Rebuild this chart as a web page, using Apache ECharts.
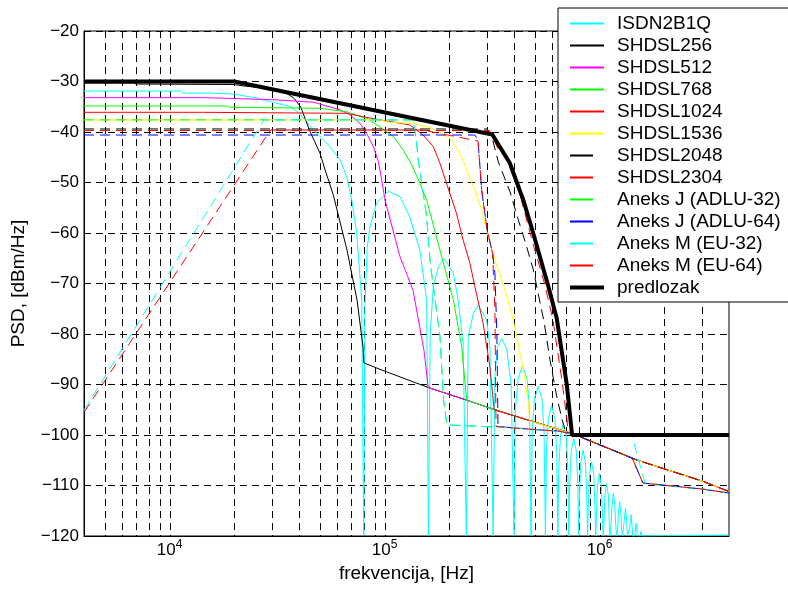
<!DOCTYPE html>
<html>
<head>
<meta charset="utf-8">
<script src="https://cdn.jsdelivr.net/npm/echarts@6/dist/echarts.min.js"></script>
<style>html,body{margin:0;padding:0;background:#fff}#c{width:788px;height:594px}</style>
</head>
<body>
<div id="c"></div>
<script>
// ---- data (frequency in Hz, PSD in dBm/Hz) ----
const seriesNames = ['ISDN2B1Q','SHDSL256','SHDSL512','SHDSL768','SHDSL1024','SHDSL1536','SHDSL2048','SHDSL2304','Aneks J (ADLU-32)','Aneks J (ADLU-64)','Aneks M (EU-32)','Aneks M (EU-64)','predlozak'];
const seriesColors = ['#00ffff','#000000','#ff00ff','#00ff00','#ff0000','#ffff00','#000000','#ff0000','#00ff00','#0000ff','#00ffff','#ff0000','#000000'];
const seriesDashed = [false,false,false,false,false,false,true,true,true,true,true,true,false];

const isdn = [[4000,-31.9],[11300,-31.9],[11500,-32.3],[15500,-32.3],[20000,-32.5],[25600,-33.3],[29500,-34],[36600,-35],[40500,-36.5],[46700,-39.6],[53900,-42.2],[62100,-45.5],[66700,-48.9],[70400,-53.5],[74200,-60],[78300,-73.3],[80000,-120],
 [81000,-75],[83000,-63],[85500,-58.8],[91800,-54.1],[104000,-51.7],[118000,-52.8],[131000,-56.8],[146000,-63.4],[157000,-73.3],[160000,-120],
 [163000,-80],[168600,-70.6],[178000,-66.7],[189700,-65.1],[209000,-68],[220000,-73.3],[232000,-82],[240000,-120],
 [245000,-80.5],[259000,-75.9],[273000,-74.3],[298500,-77.2],[309000,-82.5],[320000,-120],
 [326000,-88],[336000,-82.5],[351000,-80.9],[370000,-83],[388000,-90],[400000,-120],
 [406000,-95],[418000,-88.8],[438000,-86.3],[460000,-88.8],[472000,-95],[480000,-120],
 [486000,-99.4],[498000,-92.9],[518000,-90.4],[540000,-92.9],[552000,-99.4],[560000,-120],
 [566000,-103.2],[578000,-96.7],[598000,-94.2],[620000,-96.7],[632000,-103.2],[640000,-120],
 [646000,-106.7],[658000,-100.2],[678000,-97.7],[700000,-100.2],[712000,-106.7],[720000,-120],
 [726000,-109.7],[738000,-103.2],[758000,-100.7],[780000,-103.2],[792000,-109.7],[800000,-120],
 [806000,-112],[818000,-105.5],[838000,-103],[860000,-105.5],[872000,-112],[880000,-120],
 [886000,-114.3],[898000,-107.8],[918000,-105.3],[940000,-107.8],[952000,-114.3],[960000,-120],
 [966000,-116.6],[978000,-110.1],[998000,-107.6],[1020000,-110.1],[1032000,-116.6],[1040000,-120],
 [1046000,-118.6],[1058000,-112.1],[1078000,-109.6],[1100000,-112.1],[1112000,-118.6],[1120000,-120],
 [1134000,-117],[1142000,-114],[1160000,-111.5],[1178000,-114],[1186000,-117],[1200000,-120],
 [1214000,-118.7],[1222000,-115.7],[1240000,-113.2],[1258000,-115.7],[1266000,-118.7],[1280000,-120],
 [1294000,-120],[1302000,-117],[1320000,-114.5],[1338000,-117],[1346000,-120],[1360000,-120],
 [1374000,-120],[1382000,-118.3],[1400000,-115.8],[1418000,-118.3],[1426000,-120],[1440000,-120],
 [1458000,-120],[1464000,-119.5],[1480000,-117.5],[1496000,-119.5],[1502000,-120],[1520000,-120],
 [1545000,-120],[1560000,-119.1],[1575000,-120],[1600000,-119.8],[4000000,-119.8]];

const shdsl256 = [[4000,-30.3],[6800,-30.3],[7000,-30.5],[20000,-30.6],[22200,-30.9],[29500,-31.4],[34000,-32],[37900,-33.3],[40700,-35],[45000,-39.9],[50100,-44.2],[52900,-47.5],[57800,-52.5],[66900,-63.4],[74500,-73.3],[79400,-82.6],[80000,-85.7],[95200,-87],[159700,-90.6],[241000,-93.1],[326000,-95],[755000,-99.8],[1490000,-104.95],[3040000,-109.2],[4000000,-111.2]];
const shdsl512 = [[4000,-33.2],[14600,-33.2],[14800,-33.5],[30000,-33.6],[46700,-34.1],[62100,-35.6],[69100,-36.6],[76900,-38.3],[82600,-40.3],[88700,-42.9],[93600,-45.9],[97000,-49.5],[100500,-53.5],[118000,-64.7],[135600,-71.3],[152500,-83.2],[159700,-90.6],[241000,-93.1],[326000,-95],[755000,-99.8],[1490000,-104.95],[3040000,-109.2],[4000000,-111.2]];
const shdsl768 = [[4000,-34.85],[18500,-34.85],[19000,-35.1],[50100,-35.3],[66700,-36],[82600,-37.3],[95200,-39],[109900,-40.9],[122300,-43.6],[133700,-46.5],[146000,-50.2],[157000,-53.5],[181000,-63.4],[209000,-73.3],[228400,-82.5],[241000,-93.1],[326000,-95],[755000,-99.8],[1490000,-104.95],[3040000,-109.2],[4000000,-111.2]];
const shdsl1024 = [[4000,-36.1],[14200,-36.1],[14500,-36.3],[66700,-36.3],[79600,-37],[95200,-37.6],[131000,-38.6],[151000,-40.6],[168600,-42.9],[181000,-46.2],[201000,-52.1],[216000,-56.1],[232000,-61.4],[249500,-66],[263000,-70.6],[287500,-77.9],[309000,-86.5],[323500,-95],[755000,-99.8],[1490000,-104.95],[3040000,-109.2],[4000000,-111.2]];
const shdsl1536 = [[4000,-37.6],[95000,-37.6],[106000,-38.1],[136000,-38.3],[157000,-38.95],[181000,-40],[205000,-41.6],[224000,-44.2],[245000,-48.2],[263000,-51.5],[283000,-55.4],[298500,-59.4],[315000,-63.4],[338000,-67.3],[360000,-70.8],[390000,-75.9],[412000,-80.5],[442000,-87.1],[467000,-93.7],[472000,-97.2],[755000,-99.8],[1490000,-104.95],[3040000,-109.2],[4000000,-111.2]];
const shdsl2048 = [[4000,-39.4],[300000,-39.4],[318000,-41.5],[338000,-45.9],[383000,-51.8],[419000,-57.4],[458000,-62.7],[492000,-67.3],[528000,-73.7],[552000,-77.6],[588000,-85.1],[630000,-92.1],[670000,-97],[695000,-99.3],[755000,-99.8],[1490000,-104.95],[3040000,-109.2],[4000000,-111.2]];
const shdsl2304 = [[4000,-39.7],[308000,-39.7],[336000,-43.2],[371000,-45.5],[427000,-52.5],[485000,-61.4],[557000,-70.3],[607000,-77.2],[668000,-89.1],[706000,-97],[713000,-99.4],[755000,-99.8],[1490000,-104.95],[3040000,-109.2],[4000000,-111.2]];
const adlu32 = [[4000,-37.6],[136000,-37.6],[141000,-42.1],[143000,-45.1],[157000,-56.8],[163000,-65.9],[172000,-73.3],[181000,-80.5],[188000,-93],[195000,-98],[250000,-98.2],[396000,-98.6],[528000,-99],[640000,-99.2],[755000,-99.8],[1420000,-104.6],[1590000,-109.5],[3000000,-110.7],[4000000,-111.5]];
const adlu64 = [[4000,-40.6],[263000,-40.6],[272000,-41.6],[283000,-51.5],[300000,-59.4],[318000,-64],[326000,-68],[333000,-80],[337000,-98.3],[396000,-98.6],[528000,-99],[640000,-99.2],[755000,-99.8],[1420000,-104.6],[1590000,-109.5],[3000000,-110.7],[4000000,-111.5]];
const eu32 = [[4000,-95.1],[27500,-37.6],[136000,-37.6],[141000,-42.1],[143000,-45.1],[157000,-56.8],[163000,-65.9],[172000,-73.3],[181000,-80.5],[188000,-93],[195000,-98],[250000,-98.2],[396000,-98.6],[528000,-99],[640000,-99.2],[755000,-100],[1410000,-100],[1630000,-109.7],[3000000,-110.7],[4000000,-111.5]];
const eu64 = [[4000,-95.5],[29500,-39.6],[150000,-39.6],[232000,-41.2],[272000,-41.8],[283000,-51.5],[300000,-59.4],[318000,-64],[326000,-75],[330000,-98.3],[396000,-98.6],[528000,-99],[640000,-99.2],[755000,-99.8],[1420000,-104.6],[1590000,-109.5],[3000000,-110.7],[4000000,-111.5]];
const predlozak = [[4000,-30],[20000,-30],[317000,-40.5],[383000,-46.2],[442000,-53.5],[492000,-60.1],[578000,-70.6],[632000,-76.9],[704000,-90],[745000,-100],[4000000,-100]];

const gridFreqs = [5000,6000,7000,8000,9000,10000,20000,30000,40000,50000,60000,70000,80000,90000,100000,200000,300000,400000,500000,600000,700000,800000,900000,1000000,2000000,3000000];
const xMin = 4000, xMax = 4000000, yMin = -120, yMax = -20, yStep = 10;

// ---- chart ----
const FONT = 'Liberation Sans';
const allData = [isdn,shdsl256,shdsl512,shdsl768,shdsl1024,shdsl1536,shdsl2048,shdsl2304,adlu32,adlu64,eu32,eu64,predlozak];
const chart = echarts.init(document.getElementById('c'), null, {renderer:'canvas'});

const lineSeries = seriesNames.map((n,i) => ({
  name: n, type: 'line', data: allData[i], symbol: 'none', showSymbol: false,
  silent: true, clip: true, z: 3,
  lineStyle: {color: seriesColors[i], width: n === 'predlozak' ? 4 : 1, type: seriesDashed[i] ? [10,6] : 'solid'},
  itemStyle: {color: seriesColors[i]},
  emphasis: {disabled: true}
}));

const gridSeries = {
  type: 'custom', silent: true, z: 1, clip: false,
  data: gridFreqs.map(f => [f, yMin]),
  renderItem: function (params, api) {
    const f = api.value(0);
    const p1 = api.coord([f, yMax]);
    const p2 = api.coord([f, yMin]);
    const x = Math.round(p1[0]) + 0.5;
    return {type: 'line', shape: {x1: x, y1: p1[1], x2: x, y2: p2[1]},
      style: {stroke: '#000', lineWidth: 1, lineDash: [7,5]}};
  }
};

chart.setOption({
  animation: false,
  backgroundColor: '#fff',
  textStyle: {fontFamily: FONT},
  grid: {left: 84, right: 59, top: 31, bottom: 58, show: true, borderColor: '#000', borderWidth: 1, backgroundColor: 'rgba(0,0,0,0)'},
  legend: {
    orient: 'vertical', left: 558, top: 8, padding: [6, 40, 5, 10],
    itemWidth: 34, itemHeight: 14, itemGap: 3,
    backgroundColor: '#fff', borderColor: '#000', borderWidth: 1,
    selectedMode: false,
    itemStyle: {opacity: 0, borderWidth: 0},
    textStyle: {fontFamily: FONT, fontSize: 19, color: '#000', lineHeight: 19, padding: [0,0,0,8]},
    data: seriesNames.map((n,i) => seriesDashed[i] ? {name: n, lineStyle: {type: [23, 40]}}
      : (n === 'predlozak' ? {name: n, lineStyle: {width: 4}} : {name: n}))
  },
  xAxis: {
    type: 'log', logBase: 10, min: xMin, max: xMax,
    axisLine: {show: true, lineStyle: {color: '#000', width: 1}},
    axisTick: {show: false},
    splitLine: {show: false},
    axisLabel: {
      margin: 3, color: '#000',
      formatter: function (v) {
        const e = Math.log10(v);
        if (Math.abs(e - Math.round(e)) < 1e-6) return '{b|10}{s|' + Math.round(e) + '}';
        return '';
      },
      rich: {
        b: {fontFamily: FONT, fontSize: 17, color: '#000', verticalAlign: 'bottom', lineHeight: 20},
        s: {fontFamily: FONT, fontSize: 12, color: '#000', verticalAlign: 'top', lineHeight: 11}
      }
    },
    name: 'frekvencija, [Hz]', nameLocation: 'middle', nameGap: 27,
    nameTextStyle: {fontFamily: FONT, fontSize: 19, color: '#000'}
  },
  yAxis: {
    type: 'value', min: yMin, max: yMax, interval: yStep,
    axisLine: {show: true, lineStyle: {color: '#000', width: 1}},
    axisTick: {show: false},
    axisLabel: {fontFamily: FONT, fontSize: 17, color: '#000', margin: 5,
      formatter: v => String(v).replace('-', '\u2212')},
    splitLine: {show: true, lineStyle: {color: '#000', width: 1, type: [7,5]}},
    name: 'PSD, [dBm/Hz]', nameLocation: 'middle', nameGap: 56,
    nameTextStyle: {fontFamily: FONT, fontSize: 19, color: '#000'}
  },
  series: [gridSeries].concat(lineSeries)
});
</script>
</body>
</html>
